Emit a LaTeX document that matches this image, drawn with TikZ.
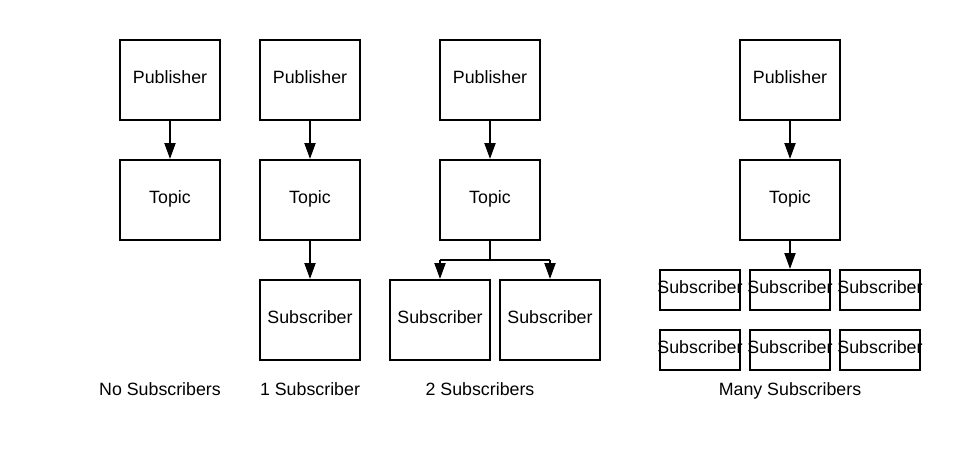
\documentclass[tikz,border=0pt]{standalone}
\usepackage{fontspec}
\setmainfont{Liberation Sans}
\usetikzlibrary{arrows.meta}
\begin{document}
\begin{tikzpicture}[x=1pt,y=-1pt,
  box/.style={draw,line width=2pt,minimum width=100pt,minimum height=80pt,inner sep=0pt,text height=9pt,text depth=2.2pt,font=\fontsize{17.8}{20}\selectfont},
  sbox/.style={draw,line width=2pt,minimum width=80pt,minimum height=40pt,inner sep=0pt,text height=9pt,text depth=2.2pt,font=\fontsize{17.8}{20}\selectfont},
  lbl/.style={font=\fontsize{17.8}{20}\selectfont,inner sep=0pt,anchor=base},
  conn/.style={line width=2pt,-{Triangle[length=16pt,width=11pt]}},
  seg/.style={line width=2pt}]
\useasboundingbox (0,0) rectangle (960,460);
% column 1
\node[box] (p1) at (170,80) {Publisher};
\node[box] (t1) at (170,200) {Topic};
\draw[conn] (p1) -- (t1);
\node[lbl] (l1) at (160,395) {No Subscribers};
% column 2
\node[box] (p2) at (310,80) {Publisher};
\node[box] (t2) at (310,200) {Topic};
\node[box] (s2) at (310,320) {Subscriber};
\draw[conn] (p2) -- (t2);
\draw[conn] (t2) -- (s2);
\node[lbl] (l2) at (310,395) {1 Subscriber};
% column 3
\node[box] (p3) at (490,80) {Publisher};
\node[box] (t3) at (490,200) {Topic};
\node[box] (s3a) at (440,320) {Subscriber};
\node[box] (s3b) at (550,320) {Subscriber};
\draw[conn] (p3) -- (t3);
\coordinate (j3) at (490,260);
\coordinate (j3a) at (440,260);
\coordinate (j3b) at (550,260);
\draw[seg] (t3.south) -- (j3);
\draw[seg] (j3a) -- (j3b);
\draw[conn] (j3a) -- (s3a.north);
\draw[conn] (j3b) -- (s3b.north);
\node[lbl] (l3) at (480,395) {2 Subscribers};
% column 4
\node[box] (p4) at (790,80) {Publisher};
\node[box] (t4) at (790,200) {Topic};
\draw[conn] (p4) -- (t4);
\node[sbox] (s41) at (700,290) {\makebox[0pt]{Subscriber}};
\node[sbox] (s42) at (790,290) {\makebox[0pt]{Subscriber}};
\node[sbox] (s43) at (880,290) {\makebox[0pt]{Subscriber}};
\node[sbox] (s44) at (700,350) {\makebox[0pt]{Subscriber}};
\node[sbox] (s45) at (790,350) {\makebox[0pt]{Subscriber}};
\node[sbox] (s46) at (880,350) {\makebox[0pt]{Subscriber}};
\draw[conn] (t4) -- (s42);
\node[lbl] (l4) at (790,395) {Many Subscribers};
\end{tikzpicture}
\end{document}
